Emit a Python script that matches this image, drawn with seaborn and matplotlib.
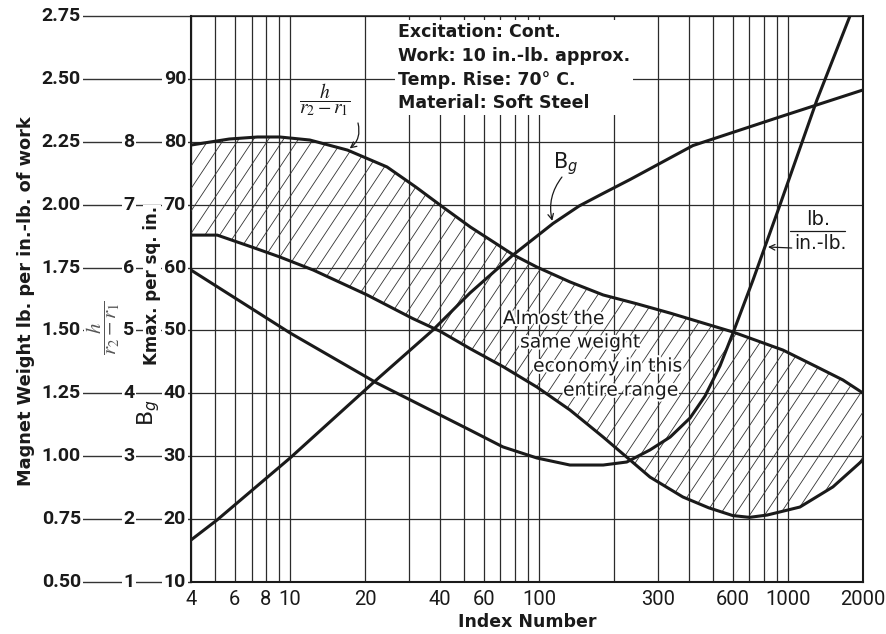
import numpy as np
import pandas as pd
import matplotlib
matplotlib.use('Agg')
import matplotlib.pyplot as plt
import matplotlib.patheffects as pe
from matplotlib.collections import LineCollection
import seaborn as sns

# left scales (all curves are plotted on the magnet-weight scale)
w_ticks = [0.50, 0.75, 1.00, 1.25, 1.50, 1.75, 2.00, 2.25, 2.50, 2.75]
w_labels = ['0.50', '0.75', '1.00', '1.25', '1.50', '1.75', '2.00', '2.25', '2.50', '2.75']
h_labels = ['1', '2', '3', '4', '5', '6', '7', '8', '', '']
k_labels = ['10', '20', '30', '40', '50', '60', '70', '80', '90', '']

x_major = [4, 6, 8, 10, 20, 40, 60, 100, 300, 600, 1000, 2000]
x_minor = [5, 7, 9, 30, 50, 70, 80, 90, 200, 400, 500, 700, 800, 900]

# h/(r2-r1) curve (upper edge of hatched band)
idx_h = [4, 5.7, 7.4, 9.1, 12, 17, 24.5, 32, 41, 53, 79, 98, 133, 181, 247, 336, 600, 954, 1306, 1662, 2000]
w_h = [2.237, 2.261, 2.269, 2.269, 2.257, 2.217, 2.150, 2.070, 1.991, 1.911, 1.800, 1.752, 1.693,
       1.641, 1.606, 1.569, 1.494, 1.422, 1.355, 1.303, 1.251]

# lower edge of hatched band
idx_k = [4, 5.1, 7, 9.1, 12.4, 20.4, 31, 40, 53, 72, 98, 133, 181, 232, 279, 378, 480, 600, 700,
         823, 1116, 1514, 2000]
w_k = [1.879, 1.879, 1.832, 1.792, 1.740, 1.641, 1.548, 1.497, 1.427, 1.355, 1.275, 1.184, 1.076,
       0.985, 0.917, 0.838, 0.795, 0.764, 0.757, 0.766, 0.798, 0.878, 0.985]

# lb. / in.-lb.
idx_c = [4, 10, 22.3, 52.8, 71.6, 98, 133, 181, 225, 279, 336, 404, 464, 533, 601, 723, 928, 1306, 1773]
w_c = [1.740, 1.490, 1.291, 1.104, 1.037, 0.993, 0.965, 0.965, 0.977, 1.025, 1.076, 1.152, 1.239,
       1.359, 1.490, 1.700, 1.999, 2.416, 2.750]

# B_g
idx_b = [4, 5.09, 10, 21.5, 37.5, 52.8, 78.6, 113.7, 145, 181, 232, 415, 928, 2000]
w_b = [0.667, 0.7465, 0.993, 1.291, 1.502, 1.649, 1.800, 1.925, 1.995, 2.045, 2.100, 2.235, 2.349, 2.456]

sns.set_style('white')
plt.rcParams['font.family'] = ['DejaVu Sans']
num_font = ['Roboto', 'DejaVu Sans']
ink = '#1a1a1a'

fig = plt.figure(figsize=(8.87, 6.34), dpi=100)
ax = fig.add_axes([191 / 887, 52 / 634, 672 / 887, 566 / 634])

curves = pd.concat([
    pd.DataFrame({'index': idx_h, 'weight': w_h, 'curve': 'h'}),
    pd.DataFrame({'index': idx_k, 'weight': w_k, 'curve': 'k'}),
    pd.DataFrame({'index': idx_c, 'weight': w_c, 'curve': 'lb'}),
    pd.DataFrame({'index': idx_b, 'weight': w_b, 'curve': 'bg'}),
])
sns.lineplot(data=curves, x='index', y='weight', hue='curve', units='curve', estimator=None,
             palette={'h': ink, 'k': ink, 'lb': ink, 'bg': ink}, legend=False,
             linewidth=2.2, sort=False, ax=ax, zorder=4)

ax.set_xscale('log')
ax.set_xlim(4, 2000)
ax.set_ylim(0.5, 2.75)

# hatched band between the two h curves
band = ax.fill(np.r_[idx_h, idx_k[::-1]], np.r_[w_h, w_k[::-1]],
               facecolor='none', edgecolor='none')[0]
offs = np.arange(-0.7, 1.0, 0.0222)
hatch = LineCollection([[(o, 0), (o + 0.56, 1)] for o in offs], transform=ax.transAxes,
                       colors='#333333', linewidths=0.6, zorder=3)
ax.add_collection(hatch, autolim=False)
hatch.set_clip_path(band)

# grid
ax.set_xticks(x_major)
ax.set_xticklabels([str(v) for v in x_major], fontfamily=num_font, fontsize=14.5)
ax.set_xticks(x_minor, minor=True)
ax.xaxis.set_minor_formatter(plt.NullFormatter())
ax.set_yticks(w_ticks)
ax.set_yticklabels([])
ax.tick_params(axis='both', which='both', length=0)
ax.tick_params(axis='x', pad=6, colors=ink)
ax.grid(True, which='both', axis='x', color='#2b2b2b', lw=0.9)
ax.grid(True, which='major', axis='y', color='#2b2b2b', lw=0.9)
ax.set_axisbelow(True)
for s in ax.spines.values():
    s.set_color(ink)
    s.set_linewidth(1.5)
ax.spines['top'].set_linewidth(1.1)
ax.set_xlabel('')
ax.set_ylabel('')

# left-hand scales
ytr = ax.get_yaxis_transform()
lab_box = dict(facecolor='white', edgecolor='none', pad=1.2)
for v, wl, hl, kl in zip(w_ticks, w_labels, h_labels, k_labels):
    ax.plot([-0.162, 0], [v, v], transform=ytr, clip_on=False, color='#333333', lw=1.0, zorder=1)
    ax.text(-0.1637, v, wl, transform=ytr, ha='right', va='center', fontfamily=num_font,
            fontweight='bold', fontsize=14, color=ink, bbox=lab_box, zorder=5)
    if hl:
        ax.text(-0.0923, v, hl, transform=ytr, ha='center', va='center', fontfamily=num_font,
                fontweight='bold', fontsize=14, color=ink, bbox=lab_box, zorder=5)
    if kl:
        ax.text(-0.0074, v, kl, transform=ytr, ha='right', va='center', fontfamily=num_font,
                fontweight='bold', fontsize=14, color=ink, bbox=lab_box, zorder=5)

ax.text(-0.245, 0.4965, 'Magnet Weight lb. per in.-lb. of work', transform=ax.transAxes,
        rotation=90, ha='center', va='center', fontsize=12.8, fontweight='bold', color=ink)
ax.text(-0.131, 0.449, r'$\dfrac{h}{r_2 - r_1}$', transform=ax.transAxes, rotation=90,
        ha='center', va='center', fontsize=15, math_fontfamily='stix', color='#555555',
        bbox=dict(facecolor='white', edgecolor='none', pad=0.5), zorder=6)
ax.text(-0.058, 0.5247, 'Kmax. per sq. in.', transform=ax.transAxes, rotation=90,
        ha='center', va='center', fontsize=12, fontweight='bold', color=ink,
        bbox=dict(facecolor='white', edgecolor='none', pad=0.3), zorder=6)
ax.text(-0.0625, 0.300, r'B$_g$', transform=ax.transAxes, rotation=90,
        ha='center', va='center', fontsize=16, color=ink, zorder=6)

fig.text(527 / 887, 1 - 622 / 634, 'Index Number', ha='center', va='center',
         fontsize=12.5, fontweight='bold', color=ink)

# notes
ax.text(0.308, 0.988, 'Excitation: Cont.\nWork: 10 in.-lb. approx.\nTemp. Rise: 70° C.\nMaterial: Soft Steel',
        transform=ax.transAxes, ha='left', va='top', fontsize=12.5, fontweight='bold',
        linespacing=1.42, color=ink, bbox=dict(facecolor='white', edgecolor='none', pad=2), zorder=6)

halo = [pe.withStroke(linewidth=3, foreground='white')]
for tx, ty, s in [(0.464, 0.4655, 'Almost the'), (0.4896, 0.424, 'same weight'),
                  (0.509, 0.3816, 'economy in this'), (0.5536, 0.339, 'entire range')]:
    ax.text(tx, ty, s, transform=ax.transAxes, ha='left', va='center', fontsize=13.5,
            color=ink, path_effects=halo, zorder=6)

ax.text(0.1994, 0.8516, r'$\dfrac{h}{r_2 - r_1}$', transform=ax.transAxes, ha='center',
        va='center', fontsize=14, math_fontfamily='stix', color=ink,
        bbox=dict(facecolor='white', edgecolor='none', pad=0.5), zorder=6)
ax.annotate('', xy=(idx_h[5], w_h[5]), xytext=(0.2485, 0.811), textcoords='axes fraction',
            arrowprops=dict(arrowstyle='->', lw=0.9, color=ink, shrinkA=0, shrinkB=2,
                            connectionstyle='arc3,rad=-0.35'), zorder=6)

ax.text(0.558, 0.740, r'B$_g$', transform=ax.transAxes, ha='center', va='center',
        fontsize=15, color=ink, zorder=6)
ax.annotate('', xy=(idx_b[7], w_b[7]), xytext=(0.552, 0.7155), textcoords='axes fraction',
            arrowprops=dict(arrowstyle='->', lw=0.9, color=ink, shrinkA=0, shrinkB=2,
                            connectionstyle='arc3,rad=0.25'), zorder=6)

ax.text(0.933, 0.641, 'lb.', transform=ax.transAxes, ha='center', va='center',
        fontsize=14, color=ink, zorder=6)
ax.plot([0.891, 0.973], [0.620, 0.620], transform=ax.transAxes, color=ink, lw=0.9, zorder=6)
ax.text(0.936, 0.5972, 'in.-lb.', transform=ax.transAxes, ha='center', va='center',
        fontsize=13.5, color=ink, zorder=6)
ax.annotate('', xy=(0.8586, 0.5919), xycoords='axes fraction', xytext=(0.894, 0.5901),
            textcoords='axes fraction',
            arrowprops=dict(arrowstyle='->', lw=0.9, color=ink, shrinkA=0, shrinkB=0), zorder=6)

fig.savefig('out.png', dpi=100)
